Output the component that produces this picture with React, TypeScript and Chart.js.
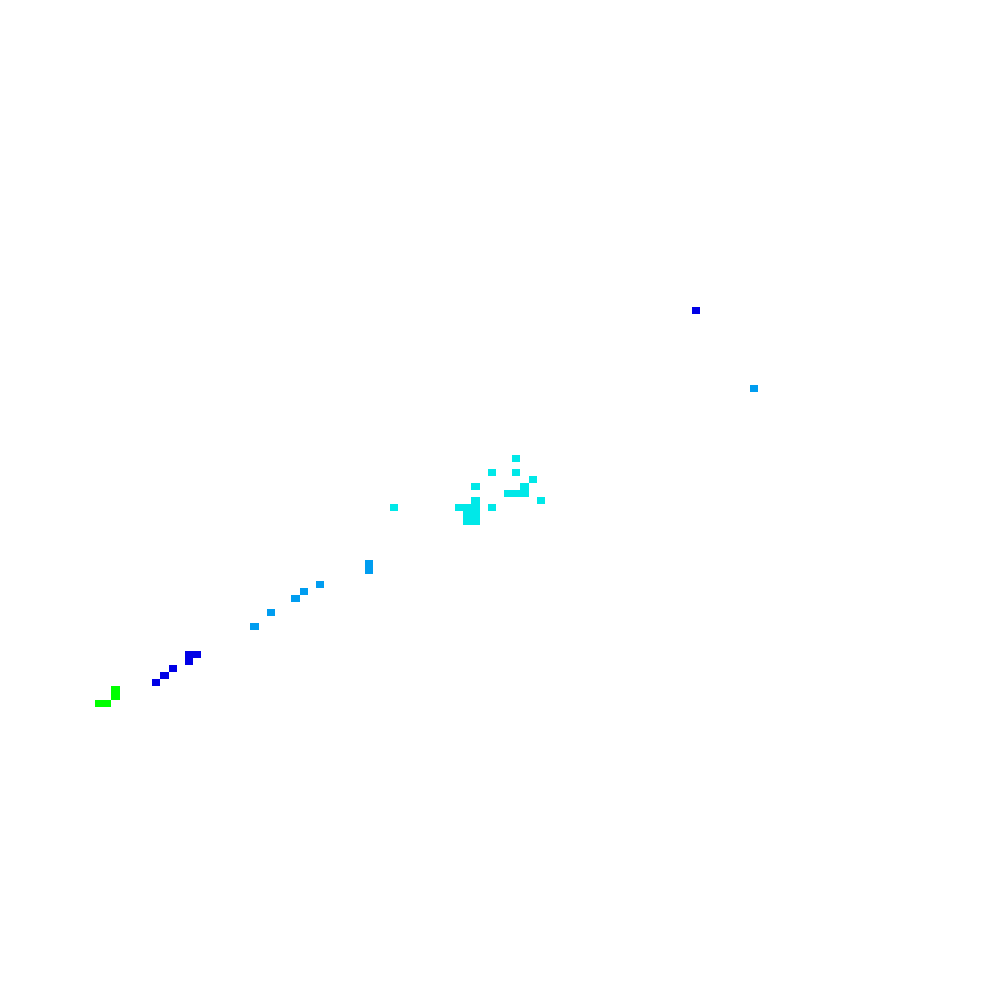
import React, { useEffect, useRef } from "react";
import { Chart, registerables } from "chart.js";

Chart.register(...registerables);

// Grid cells of the 2D density map: column index, row index, count level
const cellCols = [
  11, 12, 13, 13,
  18, 19, 20, 22, 22, 23, 84,
  30, 32, 35, 36, 38, 44, 44, 91,
  47, 55, 56, 57, 57, 56, 57, 56, 57, 59, 57, 59, 62, 62, 64, 63, 63, 61, 62, 65,
];
const cellRows = [
  41, 41, 42, 43,
  44, 45, 46, 47, 48, 48, 97,
  52, 54, 56, 57, 58, 60, 61, 86,
  69, 69, 69, 69, 70, 68, 68, 67, 67, 69, 72, 74, 76, 74, 73, 72, 71, 71, 71, 70,
];
const cellLevels = [
  4, 4, 4, 4,
  1, 1, 1, 1, 1, 1, 1,
  2, 2, 2, 2, 2, 2, 2, 2,
  3, 3, 3, 3, 3, 3, 3, 3, 3, 3, 3, 3, 3, 3, 3, 3, 3, 3, 3, 3,
];
const levels = [1, 2, 3, 4];
const levelColors = ["#0000E6", "#009DF0", "#00E8E8", "#00FF00"];

const gridCols = 121;
const gridRows = 141.8;

const cellPlugin = {
  id: "cells",
  afterDatasetsDraw(chart: any) {
    const { ctx } = chart;
    const xs = chart.scales.x;
    const ys = chart.scales.y;
    chart.data.datasets.forEach((ds: any, di: number) => {
      if (!chart.isDatasetVisible(di)) return;
      ctx.save();
      ctx.fillStyle = ds.backgroundColor;
      ds.data.forEach((p: any) => {
        const x0 = Math.round(xs.getPixelForValue(p.x - 0.5));
        const x1 = Math.round(xs.getPixelForValue(p.x + 0.5));
        const y0 = Math.round(ys.getPixelForValue(p.y + 0.5));
        const y1 = Math.round(ys.getPixelForValue(p.y - 0.5));
        ctx.fillRect(x0, y0, x1 - x0, y1 - y0);
      });
      ctx.restore();
    });
  },
};

export default function App() {
  const ref = useRef<HTMLCanvasElement | null>(null);
  useEffect(() => {
    if (!ref.current) return;
    const datasets = levels.map((lv, li) => ({
      label: String(lv),
      data: cellCols
        .map((c, i) => ({ x: c + 0.5, y: cellRows[i] + 0.5, lv: cellLevels[i] }))
        .filter((p) => p.lv === lv),
      backgroundColor: levelColors[li],
      pointRadius: 0,
      pointHoverRadius: 0,
    }));
    const chart = new Chart(ref.current, {
      type: "scatter",
      data: { datasets },
      options: {
        animation: false,
        responsive: true,
        maintainAspectRatio: false,
        layout: { padding: { left: 5, right: 5, top: 0, bottom: 5 } },
        plugins: { legend: { display: false }, tooltip: { enabled: false } },
        scales: {
          x: { type: "linear", min: 0, max: gridCols, display: false },
          y: { type: "linear", min: 0, max: gridRows, display: false },
        },
      },
      plugins: [cellPlugin],
    });
    return () => chart.destroy();
  }, []);
  return (
    <div style={{ position: "absolute", left: 0, top: 0, width: 1000, height: 1000, background: "#fff" }}>
      <canvas ref={ref} />
    </div>
  );
}
